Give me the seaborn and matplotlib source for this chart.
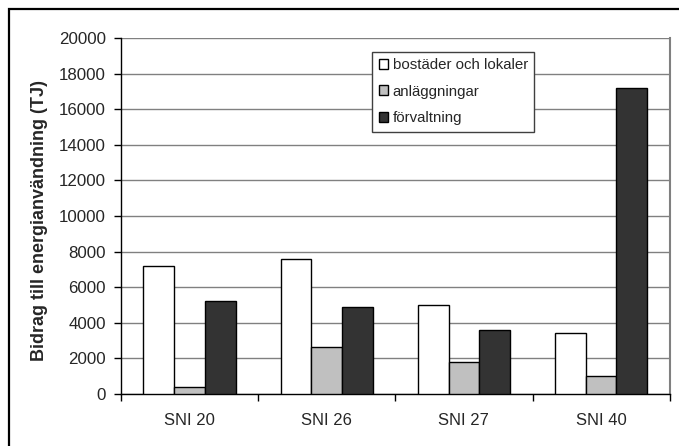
import matplotlib
matplotlib.use("Agg")
import matplotlib.pyplot as plt
from matplotlib.patches import Rectangle, Patch
import seaborn as sns
import pandas as pd

# Energy-use contribution per SNI sector, split by category (TJ)
sectors = ["SNI 20", "SNI 26", "SNI 27", "SNI 40"]
categories = ["bostäder och lokaler", "anläggningar", "förvaltning"]
bostader = [7200, 7600, 5000, 3450]
anlaggningar = [400, 2650, 1800, 1000]
forvaltning = [5200, 4900, 3600, 17200]
colors = ["#ffffff", "#c0c0c0", "#333333"]

df = pd.DataFrame({
    "sektor": sectors * 3,
    "kategori": [c for c in categories for _ in sectors],
    "TJ": bostader + anlaggningar + forvaltning,
})

sns.set_theme(style="white")
plt.rcParams["font.family"] = ["Liberation Sans", "DejaVu Sans"]

W, H = 679, 446
fig = plt.figure(figsize=(W / 100, H / 100), dpi=100)
ax = fig.add_axes([121 / W, 1 - 394 / H, (669.7 - 121) / W, (394 - 38) / H])

sns.barplot(data=df, x="sektor", y="TJ", hue="kategori", order=sectors,
            hue_order=categories, palette=colors, width=0.673, gap=0,
            edgecolor="black", linewidth=1.0, saturation=1, ax=ax,
            legend=False, zorder=3)

ax.set_xlim(-0.5, len(sectors) - 0.5)
ax.set_ylim(0, 20000)
ax.set_yticks(range(0, 20001, 2000))
ax.set_yticklabels([str(v) for v in range(0, 20001, 2000)], fontsize=12.2)
ax.yaxis.grid(True, color="#808080", linewidth=1.0, zorder=0)
ax.set_axisbelow(True)

# boundary ticks between sectors, labels centred under each group
ax.set_xticks([i - 0.5 for i in range(len(sectors) + 1)])
ax.set_xticklabels([])
ax.set_xticks(range(len(sectors)), minor=True)
ax.set_xticklabels(sectors, minor=True, fontsize=12)
ax.tick_params(axis="x", which="major", direction="out", length=5, width=1,
               color="black", bottom=True)
ax.tick_params(axis="x", which="minor", length=0, pad=14)
ax.tick_params(axis="y", direction="out", length=5, width=1, color="black",
               left=True, pad=6)

ax.set_xlabel("")
ax.set_ylabel("Bidrag till energianvändning (TJ)", fontsize=13,
              fontweight="bold")
ax.yaxis.set_label_coords(-0.133, 0.487)

for side in ["left", "bottom"]:
    ax.spines[side].set_color("black")
    ax.spines[side].set_linewidth(1.0)
ax.spines["right"].set_color("#808080")
ax.spines["right"].set_linewidth(1.5)
ax.spines["top"].set_visible(False)

handles = [Patch(facecolor=c, edgecolor="black", linewidth=1.0) for c in colors]
leg = fig.legend(handles, categories, loc="upper left",
                 bbox_to_anchor=(372.3 / W, 1 - 51.7 / H),
                 bbox_transform=fig.transFigure, borderaxespad=0,
                 fontsize=10.8, handlelength=0.65, handleheight=0.65,
                 handletextpad=0.3, labelspacing=0.85, borderpad=0.42,
                 fancybox=False, framealpha=1, edgecolor="#404040")
leg.get_frame().set_linewidth(1.0)

# outer chart frame
fig.patches.append(Rectangle((9 / W, -0.1), 2.0, 1.1 - 9 / H,
                             transform=fig.transFigure, fill=False,
                             edgecolor="black", linewidth=1.6))

fig.savefig("out.png", dpi=100)
